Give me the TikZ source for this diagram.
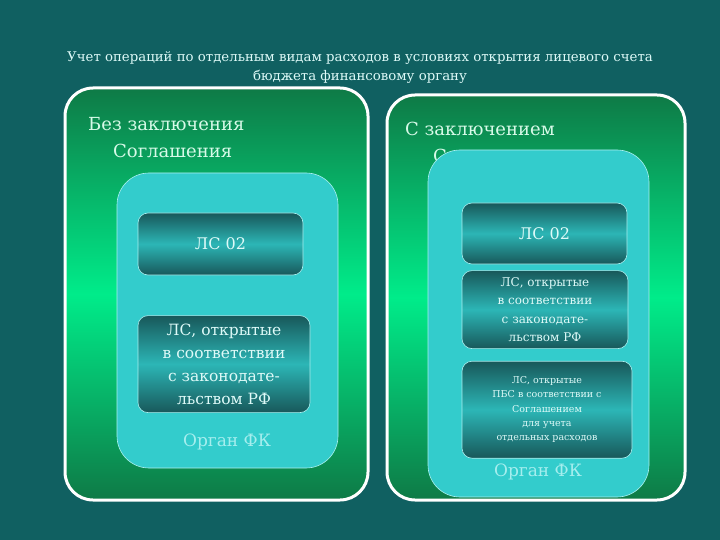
\documentclass[tikz,border=0pt]{standalone}
\usepackage{fontspec}
\setmainfont{DejaVu Serif}
\usetikzlibrary{positioning}

\definecolor{bgteal}{RGB}{16,96,97}
\definecolor{darkgreen}{RGB}{14,122,70}
\definecolor{lightgreen}{RGB}{0,236,138}
\definecolor{aqua}{RGB}{51,204,204}
\definecolor{aqualine}{RGB}{170,240,240}
\definecolor{tealdark}{RGB}{24,88,90}
\definecolor{teallight}{RGB}{44,182,182}
\definecolor{palecyan}{RGB}{222,250,248}
\definecolor{organcyan}{RGB}{165,238,238}
\definecolor{mint}{RGB}{215,250,232}

\begin{document}
\begin{tikzpicture}[x=1pt, y=-1pt, inner sep=0pt]
    \tikzstyle{frame}=[draw=white, line width=3pt, rounded corners=28pt, top color=darkgreen, bottom color=darkgreen, middle color=lightgreen]
    \tikzstyle{organ}=[draw=aqualine, line width=0.6pt, fill=aqua, rounded corners=32pt]
    \tikzstyle{account}=[draw=aqualine, line width=0.6pt, rounded corners=10pt, top color=tealdark, bottom color=tealdark, middle color=teallight, text=palecyan, align=center]
    \tikzstyle{caption}=[text=mint, align=left, font=\fontsize{18}{27}\selectfont]
    \tikzstyle{organlabel}=[text=organcyan, font=\fontsize{17}{20}\selectfont]

    \fill[bgteal] (0,0) rectangle (720,540);

    \node[text=palecyan, align=center, font=\fontsize{13.3}{19}\selectfont] (title) at (360,67.5) {Учет операций по отдельным видам расходов в условиях открытия лицевого счета\\бюджета финансовому органу};

    % outer frames
    \node[frame, minimum width=303, minimum height=412] (without) at (216.5,294) {};
    \node[frame, minimum width=298, minimum height=405] (with) at (536,297.5) {};
    \node[caption, anchor=west] (withoutcap) at (88,137.5) {Без заключения\\\hspace*{25pt}Соглашения};
    \node[caption, anchor=west] (withcap) at (405,142.5) {С заключением\\\hspace*{28pt}Соглашения};

    % left: without agreement
    \node[organ, minimum width=221, minimum height=295] (organL) at (227.5,320.5) {};
    \node[account, minimum width=165, minimum height=62, font=\fontsize{16}{20}\selectfont] (lsL) at (220.5,244) {ЛС 02};
    \node[account, below=40pt of lsL.south west, anchor=north west, minimum width=172, minimum height=97, font=\fontsize{15.5}{23}\selectfont] (lawL) {ЛС, открытые\\в соответствии\\с законодате-\\льством РФ};
    \node[organlabel] (fkL) at (227,442) {Орган ФК};

    % right: with agreement
    \node[organ, minimum width=221, minimum height=347] (organR) at (538.5,323.5) {};
    \node[account, minimum width=165, minimum height=61, font=\fontsize{16}{20}\selectfont] (lsR) at (544.5,233.5) {ЛС 02};
    \node[account, below=6pt of lsR.south west, anchor=north west, minimum width=166, minimum height=78, font=\fontsize{12}{18.5}\selectfont] (lawR) {ЛС, открытые\\в соответствии\\с законодате-\\льством РФ};
    \node[account, below=12pt of lawR.south west, anchor=north west, minimum width=170, minimum height=97, font=\fontsize{9.5}{14.3}\selectfont] (pbsR) {ЛС, открытые\\ПБС в соответствии с\\Соглашением\\для учета\\отдельных расходов};
    \node[organlabel] (fkR) at (538,472) {Орган ФК};
\end{tikzpicture}
\end{document}
